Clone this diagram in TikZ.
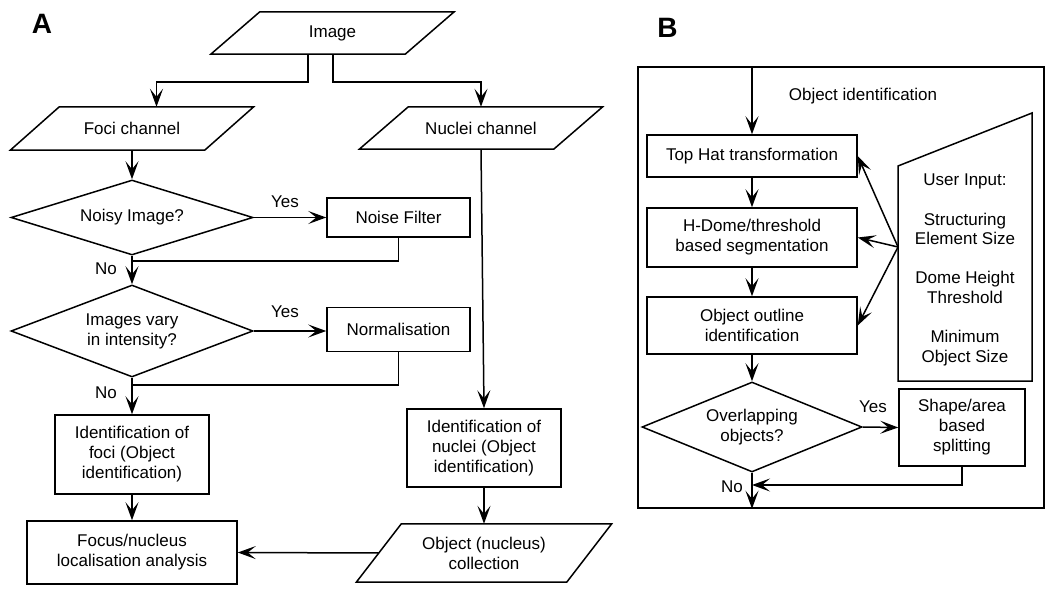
\documentclass[tikz,border=0pt]{standalone}
\usepackage{fontspec}
\setmainfont{Liberation Sans}
\usetikzlibrary{arrows.meta,shapes.geometric}
\newcommand{\drawpara}[2]{%
  \draw[line] ([xshift=-#2]#1.south west) -- ([xshift=-#2]#1.south east) -- ([xshift=#2]#1.north east) -- ([xshift=#2]#1.north west) -- cycle;}
\begin{document}
\begin{tikzpicture}[x=1pt,y=-1pt,
  every node/.style={font=\fontsize{17}{20}\selectfont, inner sep=0pt, align=center},
  line/.style={line width=1.5pt},
  arr/.style={line width=1.5pt,-{Stealth[length=18pt,width=13pt,inset=8pt]}},
  box/.style={draw,line width=1.5pt,rectangle},
  para/.style={rectangle},
  dia/.style={draw,line width=1.5pt,diamond,aspect=3},
  lbl/.style={font=\fontsize{28}{32}\selectfont\bfseries}
]
\useasboundingbox (0,0) rectangle (1050,591);

% ---------- Panel A ----------
\node[lbl] (la) at (42,24) {A};

\node[para, minimum width=194, minimum height=42] (img) at (332.5,33) {Image};
\drawpara{img}{24.5}
\node[para, minimum width=194, minimum height=43] (foci) at (132,128.5) {Foci channel};
\drawpara{foci}{24.5}
\node[para, minimum width=194, minimum height=42] (nuc) at (481,128) {Nuclei channel};
\drawpara{nuc}{24.5}

\draw[arr] ([xshift=-24.5]img.south) -- ++(0,28) -| ([xshift=24.5]foci.north);
\draw[arr] ([xshift=0.5]img.south) -- ++(0,28) -| (nuc.north);

\node[dia, minimum width=242, minimum height=75] (d1) at (132,217.5) {Noisy Image?};
\node[box, minimum width=143, minimum height=39] (nf) at (398.5,217.5) {Noise Filter};
\node (y1) at (285,202) {Yes};
\draw[arr] (foci.south) -- (d1.north);
\draw[arr] (d1.east) -- (nf.west);
\coordinate (j1) at (132,261);
\draw[line] (nf.south) |- (j1);
\node (n1) at (106,269) {No};

\node[dia, minimum width=242, minimum height=92] (d2) at (132,331) {Images vary\\in intensity?};
\node[box, minimum width=143, minimum height=44] (nm) at (398.5,329.5) {Normalisation};
\node (y2) at (285,312) {Yes};
\draw[arr] (d1.south) -- (d2.north);
\draw[arr] (d2.east) -- (d2.east -| nm.west);
\coordinate (j2) at (132,385);
\draw[line] (nm.south) |- (j2);
\node (n2) at (106,393) {No};

\node[box, minimum width=154, minimum height=79] (idf) at (132,454.5) {Identification of\\foci (Object\\identification)};
\node[box, minimum width=210, minimum height=63] (fna) at (132,552.5) {Focus/nucleus\\localisation analysis};
\draw[arr] (d2.south) -- (idf.north);
\draw[arr] (idf.south) -- (fna.north);

\node[box, minimum width=154, minimum height=78] (idn) at (484,448) {Identification of\\nuclei (Object\\identification)};
\node[para, minimum width=210, minimum height=58] (oc) at (484,553) {Object (nucleus)\\collection};
\drawpara{oc}{22.5}
\draw[arr] (nuc.south) -- (idn.north);
\draw[arr] (idn.south) -- (oc.north);
\draw[arr] (oc.west) -- (fna.east);

% ---------- Panel B ----------
\node[lbl] (lb) at (667.5,27.5) {B};
\node[box, minimum width=406, minimum height=441] (frame) at (841,287.5) {};
\node (oi) at (863,96) {Object identification};

\node[box, minimum width=210, minimum height=42] (th) at (752,156) {Top Hat transformation};
\node[box, minimum width=210, minimum height=59] (hd) at (752,237.5) {H-Dome/threshold\\based segmentation};
\node[box, minimum width=210, minimum height=57] (ol) at (752,325.5) {Object outline\\identification};
\node[dia, aspect=2.4, minimum width=220, minimum height=90] (d3) at (752,427) {Overlapping\\objects?};
\node[box, minimum width=126, minimum height=77] (sa) at (962,427.5) {Shape/area\\based\\splitting};

\draw[arr] (frame.north -| th.north) -- (th.north);
\draw[arr] (th.south) -- (hd.north);
\draw[arr] (hd.south) -- (ol.north);
\draw[arr] (ol.south) -- (d3.north);
\draw[arr] (d3.east) -- (sa.west);
\node (y3) at (873,407) {Yes};
\draw[arr] (d3.south) -- (d3.south |- frame.south);
\coordinate (j3) at (752,485);
\draw[arr] (sa.south) |- (j3);
\node (n3) at (732,487) {No};

% user input (manual input shape)
\draw[line] (898,166) -- (1032,113) -- (1032,381) -- (898,381) -- cycle;
\node[font=\fontsize{17}{19.6}\selectfont] (ui) at (965,270) {User Input:\\[19.6pt]Structuring\\Element Size\\[19.6pt]Dome Height\\Threshold\\[19.6pt]Minimum\\Object Size};
\coordinate (uin) at (898,247);
\draw[arr] (uin) -- (th.east);
\draw[arr] (uin) -- (hd.east);
\draw[arr] (uin) -- (ol.east);
\end{tikzpicture}
\end{document}
